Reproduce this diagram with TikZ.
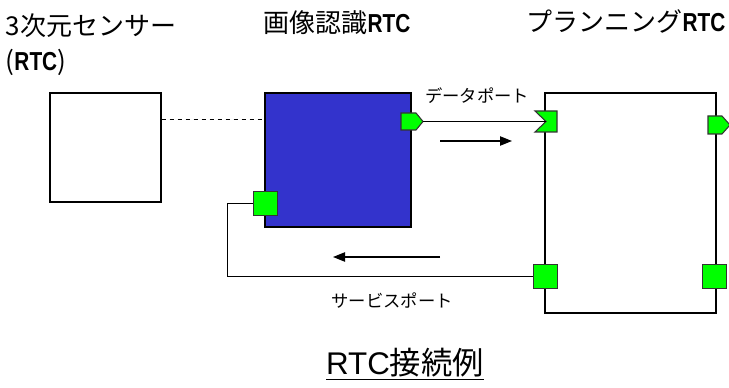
\documentclass[tikz,border=0pt]{standalone}
\usepackage{fontspec}
\setmainfont{Noto Sans CJK JP}
\newfontfamily\latinfont{Liberation Sans}
\newfontfamily\narrowfont[FakeStretch=0.8]{Liberation Sans}
\newcommand{\rtcword}{{\narrowfont\bfseries RTC}}
\usetikzlibrary{arrows.meta,calc}

\definecolor{rtcblue}{HTML}{3333CC}
\definecolor{portgreen}{HTML}{00FF00}

\tikzset{
  rtcbox/.style={draw, line width=0.9pt, inner sep=0pt},
  portsq/.style={draw=black!80, fill=portgreen, line width=0.8pt,
    minimum size=18.5pt, inner sep=0pt},
  portshape/.style={draw=black!80, fill=portgreen, line width=0.8pt},
  wire/.style={line width=0.9pt},
  flow/.style={line width=0.9pt, -{Triangle[length=9pt,width=7pt]}},
  bigtext/.style={font=\fontsize{19.5}{23}\selectfont},
  smalltext/.style={font=\fontsize{13}{15}\selectfont},
}

\begin{document}
\begin{tikzpicture}[x=0.75pt,y=-0.75pt]
      \useasboundingbox (0,0) rectangle (729,388);

      % Components
      \node[rtcbox, minimum width=83.25pt, minimum height=81.75pt]
        (sensor) at (105.5,147.5) {};
      \node[rtcbox, fill=rtcblue, minimum width=109.5pt, minimum height=100.5pt]
        (recog) at (338,160) {};
      \node[rtcbox, minimum width=128.25pt, minimum height=165pt]
        (plan) at (630.5,203) {};

      % Titles of the components
      \node[bigtext, anchor=west] (sensorname) at (1,26) {3次元センサー};
      \node[bigtext, anchor=west] (sensorrtc) at (1,62) {(\rtcword)};
      \node[bigtext, anchor=west] (recogname) at (259,23) {画像認識\rtcword};
      \node[bigtext, anchor=east] (planname) at (730,21) {プランニング\rtcword};

      % Link between sensor and recognition
      \draw[dashed, wire] ($(sensor.north east)+(0,27)$) -- ($(recog.north west)+(0,27)$);

      % Data ports
      \coordinate (rout) at (423,121.5);
      \draw[portshape] (401,113) -- (416,113) -- (rout) -- (416,130) -- (401,130) -- cycle;
      \coordinate (pin) at (546,121.5);
      \draw[portshape] (535,111) -- (557,111) -- (557,132) -- (535,132) -- (pin) -- cycle;
      \coordinate (pout) at (730,125);
      \draw[portshape] (708,116) -- (722,116) -- (pout) -- (722,134) -- (708,134) -- cycle;
      \draw[wire] (rout) -- (pin);
      \node[smalltext] (datalbl) at (477,96) {データポート};

      % Service ports
      \node[portsq] (rsv) at (265.5,203.5) {};
      \node[portsq] (psv) at (545.5,276.5) {};
      \node[portsq] (psv2) at (714.5,276.5) {};
      \draw[wire] (psv.west) -- ++(-305,0) |- (rsv.west);
      \node[smalltext] (svclbl) at (392,301) {サービスポート};

      % Direction of flow
      \coordinate (d1) at (440,141);
      \coordinate (d2) at (512,141);
      \draw[flow] (d1) -- (d2);
      \coordinate (s1) at (440,257);
      \coordinate (s2) at (333,257);
      \draw[flow] (s1) -- (s2);

      % Caption
      \node[font=\fontsize{23.5}{27}\selectfont] (caption) at (405,364)
        {\underline{{\latinfont RTC}接続例}};
\end{tikzpicture}
\end{document}
